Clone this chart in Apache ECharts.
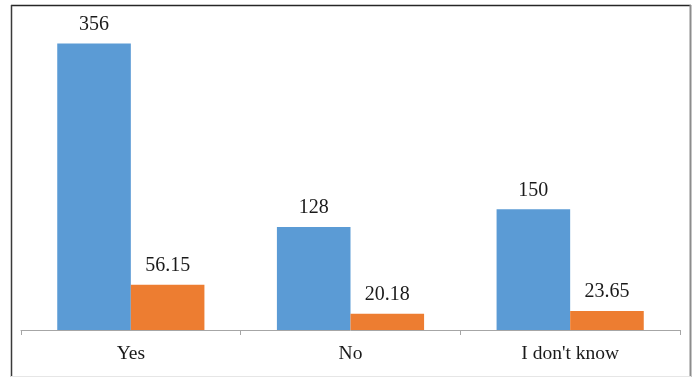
<!DOCTYPE html>
<html>
<head>
<meta charset="utf-8">
<script src="https://cdn.jsdelivr.net/npm/echarts@6/dist/echarts.min.js"></script>
<style>
  html, body { margin: 0; padding: 0; background: #fff; }
  #chart { width: 696px; height: 377px; }
</style>
</head>
<body>
<div id="chart"></div>
<script>
// Survey answers: respondent counts and percentages
const categories = ['Yes', 'No', "I don't know"];
const counts = [356, 128, 150];
const percents = [56.15, 20.18, 23.65];

const chart = echarts.init(document.getElementById('chart'), null, { renderer: 'canvas' });

const labelStyle = {
  show: true,
  position: 'top',
  distance: 9,
  color: '#1a1a1a',
  fontFamily: 'Liberation Serif',
  fontSize: 20
};

chart.setOption({
  animation: false,
  backgroundColor: '#ffffff',
  grid: { left: 21, right: 16, top: 8, bottom: 47 },
  xAxis: {
    type: 'category',
    data: categories,
    axisLine: { lineStyle: { color: '#a6a6a6', width: 1 } },
    axisTick: { show: true, length: 5, lineStyle: { color: '#a6a6a6' } },
    axisLabel: {
      color: '#1a1a1a',
      fontFamily: 'Liberation Serif',
      fontSize: 19.5,
      margin: 14
    }
  },
  yAxis: {
    type: 'value',
    min: 0,
    max: 400,
    show: false,
    splitLine: { show: false }
  },
  series: [
    {
      type: 'bar',
      data: counts,
      barGap: '0%',
      barCategoryGap: '33%',
      itemStyle: { color: '#5b9bd5' },
      label: labelStyle
    },
    {
      type: 'bar',
      data: percents,
      itemStyle: { color: '#ed7d31' },
      label: labelStyle
    }
  ],
  graphic: [
    { type: 'line', shape: { x1: 11, y1: 5.5, x2: 691, y2: 5.5 }, style: { stroke: '#262626', lineWidth: 1.5 } },
    { type: 'line', shape: { x1: 11.5, y1: 5, x2: 11.5, y2: 377 }, style: { stroke: '#3a3a3a', lineWidth: 1.5 } },
    { type: 'line', shape: { x1: 690.5, y1: 5, x2: 690.5, y2: 377 }, style: { stroke: '#8c8c8c', lineWidth: 2 } },
    { type: 'line', shape: { x1: 11, y1: 376.5, x2: 691, y2: 376.5 }, style: { stroke: '#e6e6e6', lineWidth: 1 } }
  ]
});
</script>
</body>
</html>
